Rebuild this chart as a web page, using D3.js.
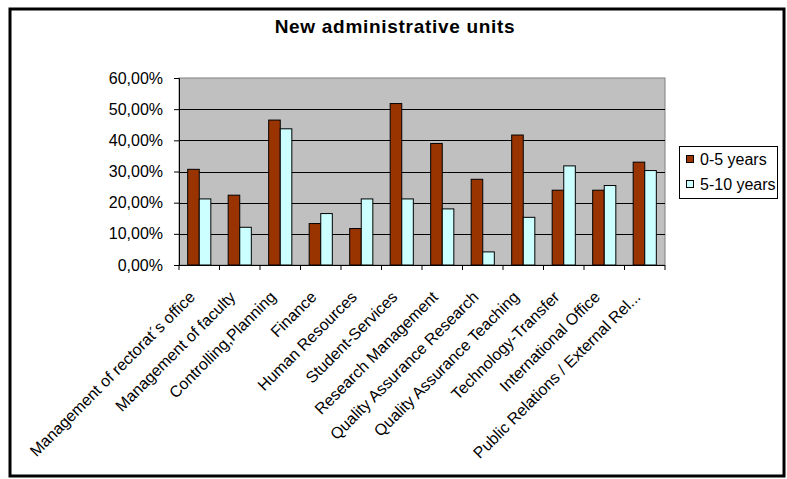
<!DOCTYPE html>
<html>
<head>
<meta charset="utf-8">
<script src="https://cdn.jsdelivr.net/npm/d3@7"></script>
<style>
  body { margin: 0; background: #fff; }
  text { font-family: Arial, "Liberation Sans", sans-serif; fill: #000; }
</style>
</head>
<body>
<div id="chart"></div>
<script>
// data
var categories = ["Management of rectorat\u00b4s office", "Management of faculty", "Controlling,Planning",
  "Finance", "Human Resources", "Student-Services", "Research Management",
  "Quality Assurance Research", "Quality Assurance Teaching", "Technology-Transfer",
  "International Office", "Public Relations / External Rel..."];
var years0to5 = [30.7, 22.4, 46.5, 13.3, 11.7, 51.8, 39.0, 27.5, 41.7, 24.0, 24.0, 33.0];
var years5to10 = [21.2, 12.1, 43.7, 16.5, 21.2, 21.2, 18.0, 4.2, 15.3, 31.8, 25.5, 30.3];
var seriesNames = ["0-5 years", "5-10 years"];
var seriesColors = ["#993300", "#CCFFFF"];
var yTicks = [0, 10, 20, 30, 40, 50, 60];

var W = 787, H = 479;
var svg = d3.select("#chart").append("svg").attr("width", W).attr("height", H);

// outer frame
svg.append("rect").attr("x", 10).attr("y", 9).attr("width", 774).attr("height", 467)
  .attr("fill", "#fff").attr("stroke", "#000").attr("stroke-width", 3);

svg.append("text").attr("x", 395).attr("y", 33).attr("text-anchor", "middle")
  .attr("font-size", 19).attr("font-weight", "bold").attr("letter-spacing", 0.7)
  .text("New administrative units");

var pLeft = 179, pRight = 665, pTop = 78, pBottom = 265;

var x = d3.scaleBand().domain(categories).range([pLeft, pRight]);
var y = d3.scaleLinear().domain([0, 60]).range([pBottom, pTop]);
var barW = x.bandwidth() / 3.5;

// plot area
svg.append("rect").attr("x", pLeft).attr("y", pTop).attr("width", pRight - pLeft).attr("height", pBottom - pTop)
  .attr("fill", "#C0C0C0").attr("stroke", "#808080").attr("stroke-width", 1);

svg.append("g").selectAll("line").data(yTicks.slice(1, -1)).join("line")
  .attr("x1", pLeft).attr("x2", pRight)
  .attr("y1", function(d) { return Math.round(y(d)) + 0.5; })
  .attr("y2", function(d) { return Math.round(y(d)) + 0.5; })
  .attr("stroke", "#000").attr("stroke-width", 1);

// bars
var series = [years0to5, years5to10];
series.forEach(function(vals, si) {
  svg.append("g").selectAll("rect").data(vals).join("rect")
    .attr("x", function(d, i) { return x(categories[i]) + x.bandwidth() / 2 - barW + si * barW; })
    .attr("y", function(d) { return y(d); })
    .attr("width", barW)
    .attr("height", function(d) { return pBottom - y(d); })
    .attr("fill", seriesColors[si])
    .attr("stroke", "#000").attr("stroke-width", 1);
});

// y axis
var yAxis = svg.append("g").attr("transform", "translate(" + pLeft + ",0)")
  .call(d3.axisLeft(y).tickValues(yTicks).tickSize(5).tickPadding(11)
    .tickFormat(function(d) { return d3.format(".2f")(d).replace(".", ",") + "%"; }));
yAxis.select(".domain").attr("stroke", "#000");
yAxis.selectAll(".tick line").attr("stroke", "#000");
yAxis.selectAll("text").attr("font-size", 16).attr("font-family", "Arial, 'Liberation Sans', sans-serif");

// x axis line and ticks at category boundaries
svg.append("line").attr("x1", pLeft).attr("x2", pRight).attr("y1", pBottom + 0.5).attr("y2", pBottom + 0.5)
  .attr("stroke", "#000");
svg.append("g").selectAll("line").data(d3.range(categories.length + 1)).join("line")
  .attr("x1", function(i) { return pLeft + i * x.step(); })
  .attr("x2", function(i) { return pLeft + i * x.step(); })
  .attr("y1", pBottom).attr("y2", pBottom + 5).attr("stroke", "#000");

// rotated category labels
svg.append("g").selectAll("text").data(categories).join("text")
  .attr("transform", function(d) {
    return "translate(" + (x(d) + x.bandwidth() / 2 - 3.3) + "," + (pBottom + 33) + ") rotate(-45)";
  })
  .attr("text-anchor", "end").attr("font-size", 16)
  .text(function(d) { return d; });

// legend
var lg = svg.append("g");
lg.append("rect").attr("x", 679.5).attr("y", 146.5).attr("width", 98).attr("height", 52)
  .attr("fill", "#fff").attr("stroke", "#000");
seriesNames.forEach(function(n, i) {
  lg.append("rect").attr("x", 686.5).attr("y", 155.5 + i * 25).attr("width", 7).attr("height", 7)
    .attr("fill", seriesColors[i]).attr("stroke", "#000");
  lg.append("text").attr("x", 700).attr("y", 164.5 + i * 25).attr("font-size", 16).text(n);
});
</script>
</body>
</html>
